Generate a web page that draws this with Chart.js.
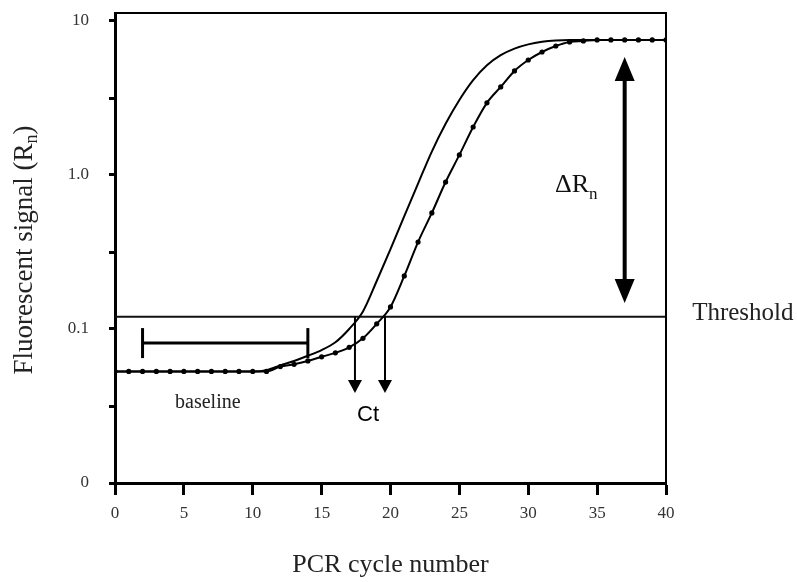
<!DOCTYPE html>
<html>
<head>
<meta charset="utf-8">
<script src="https://cdn.jsdelivr.net/npm/chart.js@4.4.1/dist/chart.umd.min.js"></script>
<style>
html,body{margin:0;padding:0;background:#fff;}
canvas{display:block;}
</style>
</head>
<body>
<canvas id="c" width="797" height="582"></canvas>
<script>
// ---- data ----
const cycles = [0,1,2,3,4,5,6,7,8,9,10,11,12,13,14,15,16,17,18,19,20,21,22,23,24,25,26,27,28,29,30,31,32,33,34,35,36,37,38,39,40];
// sample A: smooth curve, no markers
const curveA = [0.053,0.053,0.053,0.053,0.053,0.053,0.053,0.053,0.053,0.053,0.053,
  0.054,0.058,0.062,0.067,0.073,0.082,0.100,0.130,0.205,0.330,0.54,0.88,1.42,2.15,3.07,4.13,5.16,6.0,6.62,7.05,7.33,
  7.48,7.53,7.53,7.53,7.53,7.53,7.53,7.53,7.53];
// sample B: curve with markers
const curveB = [0.053,0.053,0.053,0.053,0.053,0.053,0.053,0.053,0.053,0.053,0.053,0.053,
  0.057,0.059,0.062,0.066,0.070,0.076,0.087,0.108,0.139,0.221,0.367,0.567,0.90,1.35,2.05,2.94,3.73,4.74,5.58,6.29,6.88,7.31,7.42,
  7.53,7.53,7.53,7.53,7.53,7.53];
const thresholdX = [0, 40];
const thresholdValue = 0.12;
const baselineRangeX = [2, 14];
const baselineBarValue = 0.081;
const ctArrowX = [17.42, 19.6];
const ctArrowTop = 0.12;
const ctArrowBottom = 0.0384;
const deltaArrowX = 37;
const deltaArrowRange = [0.1476, 5.84];
const xTickLabels = [0,5,10,15,20,25,30,35,40];
const yTickValues = [0.01, 0.0316, 0.1, 0.316, 1, 3.16, 10];
const yTickLabels = {0.01:'0', 0.1:'0.1', 1:'1.0', 10:'10'};
const textLabels = [
  {text:'baseline', x:4.36, y:0.0307, font:'20px "Liberation Serif"'},
  {text:'Ct', x:17.57, y:0.0253, font:'22px "Liberation Sans"'},
  {text:'Threshold', x:41.9, y:0.1144, font:'25px "Liberation Serif"'}
];
const deltaLabel = {main:'\u0394R', sub:'n', x:31.94, y:0.776};
const xTitle = 'PCR cycle number';
const yTitleMain = 'Fluorescent signal (R';
const yTitleSub = 'n';
const yTitleEnd = ')';

const toXY = (xs, ys) => xs.map((v, i) => ({x: v, y: ys[i]}));

function vArrow(ctx, px, yStart, yEnd, lw, headW, headL, both) {
  ctx.lineWidth = lw;
  ctx.beginPath();
  ctx.moveTo(px, both ? yStart + headL - 1 : yStart);
  ctx.lineTo(px, yEnd - headL + 1);
  ctx.stroke();
  ctx.beginPath();
  ctx.moveTo(px, yEnd);
  ctx.lineTo(px - headW/2, yEnd - headL);
  ctx.lineTo(px + headW/2, yEnd - headL);
  ctx.closePath();
  ctx.fill();
  if (both) {
    ctx.beginPath();
    ctx.moveTo(px, yStart);
    ctx.lineTo(px - headW/2, yStart + headL);
    ctx.lineTo(px + headW/2, yStart + headL);
    ctx.closePath();
    ctx.fill();
  }
}

const annotPlugin = {
  id: 'annot',
  afterDraw(chart) {
    const {ctx, chartArea: a, scales: {x, y}} = chart;
    ctx.save();
    ctx.strokeStyle = '#000';
    ctx.fillStyle = '#000';
    // top & right frame
    ctx.lineWidth = 2;
    ctx.beginPath();
    ctx.moveTo(a.left, a.top);
    ctx.lineTo(a.right, a.top);
    ctx.lineTo(a.right, a.bottom);
    ctx.stroke();
    // Ct arrows
    ctArrowX.forEach(cx => {
      vArrow(ctx, x.getPixelForValue(cx), y.getPixelForValue(ctArrowTop), y.getPixelForValue(ctArrowBottom), 2, 14, 13, false);
    });
    // delta Rn double arrow
    vArrow(ctx, x.getPixelForValue(deltaArrowX), y.getPixelForValue(deltaArrowRange[1]), y.getPixelForValue(deltaArrowRange[0]), 4, 20, 24, true);
    // text labels
    ctx.textBaseline = 'alphabetic';
    ctx.textAlign = 'left';
    textLabels.forEach(t => {
      ctx.font = t.font;
      ctx.fillStyle = t.text === 'Ct' ? '#000' : '#222';
      ctx.fillText(t.text, x.getPixelForValue(t.x), y.getPixelForValue(t.y));
    });
    // Delta Rn
    ctx.fillStyle = '#111';
    let lx = x.getPixelForValue(deltaLabel.x), ly = y.getPixelForValue(deltaLabel.y);
    ctx.font = '26px "Liberation Serif"';
    ctx.fillText(deltaLabel.main, lx, ly);
    let w = ctx.measureText(deltaLabel.main).width;
    ctx.font = '17px "Liberation Serif"';
    ctx.fillText(deltaLabel.sub, lx + w, ly + 7);
    // y title (rotated, with subscript)
    ctx.fillStyle = '#222';
    ctx.translate(32, 250);
    ctx.rotate(-Math.PI / 2);
    ctx.font = '27px "Liberation Serif"';
    const w1 = ctx.measureText(yTitleMain).width;
    const w3 = ctx.measureText(yTitleEnd).width;
    ctx.font = '18px "Liberation Serif"';
    const w2 = ctx.measureText(yTitleSub).width;
    const total = w1 + w2 + w3;
    let sx = -total / 2;
    ctx.font = '27px "Liberation Serif"';
    ctx.fillText(yTitleMain, sx, 0);
    ctx.font = '18px "Liberation Serif"';
    ctx.fillText(yTitleSub, sx + w1, 5);
    ctx.font = '27px "Liberation Serif"';
    ctx.fillText(yTitleEnd, sx + w1 + w2, 0);
    ctx.restore();
  }
};

new Chart(document.getElementById('c'), {
  type: 'line',
  data: {
    datasets: [
      {
        label: 'Sample A',
        data: toXY(cycles, curveA),
        borderColor: '#000',
        borderWidth: 2,
        pointRadius: 0,
        cubicInterpolationMode: 'monotone',
        fill: false
      },
      {
        label: 'Sample B',
        data: toXY(cycles, curveB),
        borderColor: '#000',
        backgroundColor: '#000',
        borderWidth: 2,
        pointRadius: 2.6,
        pointBackgroundColor: '#000',
        pointBorderWidth: 0,
        cubicInterpolationMode: 'monotone',
        fill: false
      },
      {
        label: 'Threshold',
        data: toXY(thresholdX, [thresholdValue, thresholdValue]),
        borderColor: '#111',
        borderWidth: 2,
        pointRadius: 0,
        fill: false
      },
      {
        label: 'Baseline range',
        data: toXY(baselineRangeX, [baselineBarValue, baselineBarValue]),
        borderColor: '#000',
        borderWidth: 3,
        pointStyle: 'line',
        rotation: 90,
        pointRadius: 15,
        pointBorderWidth: 3,
        pointBorderColor: '#000',
        fill: false
      }
    ]
  },
  options: {
    responsive: false,
    animation: false,
    events: [],
    layout: {autoPadding: false, padding: {left: 0, right: 131, top: 13, bottom: 0}},
    plugins: {legend: {display: false}, tooltip: {enabled: false}},
    scales: {
      x: {
        type: 'linear',
        min: 0, max: 40,
        afterFit: s => { s.height = 99; s.paddingLeft = 0; s.paddingRight = 0; },
        afterBuildTicks: s => { s.ticks = xTickLabels.map(v => ({value: v})); },
        grid: {drawOnChartArea: false, drawTicks: true, tickLength: 12, tickWidth: 3, color: '#000'},
        border: {display: true, width: 3, color: '#000'},
        ticks: {padding: 8, color: '#333', font: {family: 'Liberation Serif', size: 17}, maxRotation: 0},
        title: {display: true, text: xTitle, color: '#222', font: {family: 'Liberation Serif', size: 26, lineHeight: 1}, padding: {top: 0, bottom: 4}}
      },
      y: {
        type: 'logarithmic',
        min: 0.01, max: 11.27,
        afterFit: s => { s.width = 115; s.paddingTop = 0; s.paddingBottom = 0; },
        afterBuildTicks: s => { s.ticks = yTickValues.map(v => ({value: v})); },
        grid: {drawOnChartArea: false, drawTicks: true, tickLength: 6, tickWidth: 3, color: '#000'},
        border: {display: true, width: 3, color: '#000'},
        ticks: {
          padding: 20, color: '#333', font: {family: 'Liberation Serif', size: 17},
          autoSkip: false,
          callback: v => (yTickLabels[v] !== undefined ? yTickLabels[v] : '')
        }
      }
    }
  },
  plugins: [annotPlugin]
});
</script>
</body>
</html>
